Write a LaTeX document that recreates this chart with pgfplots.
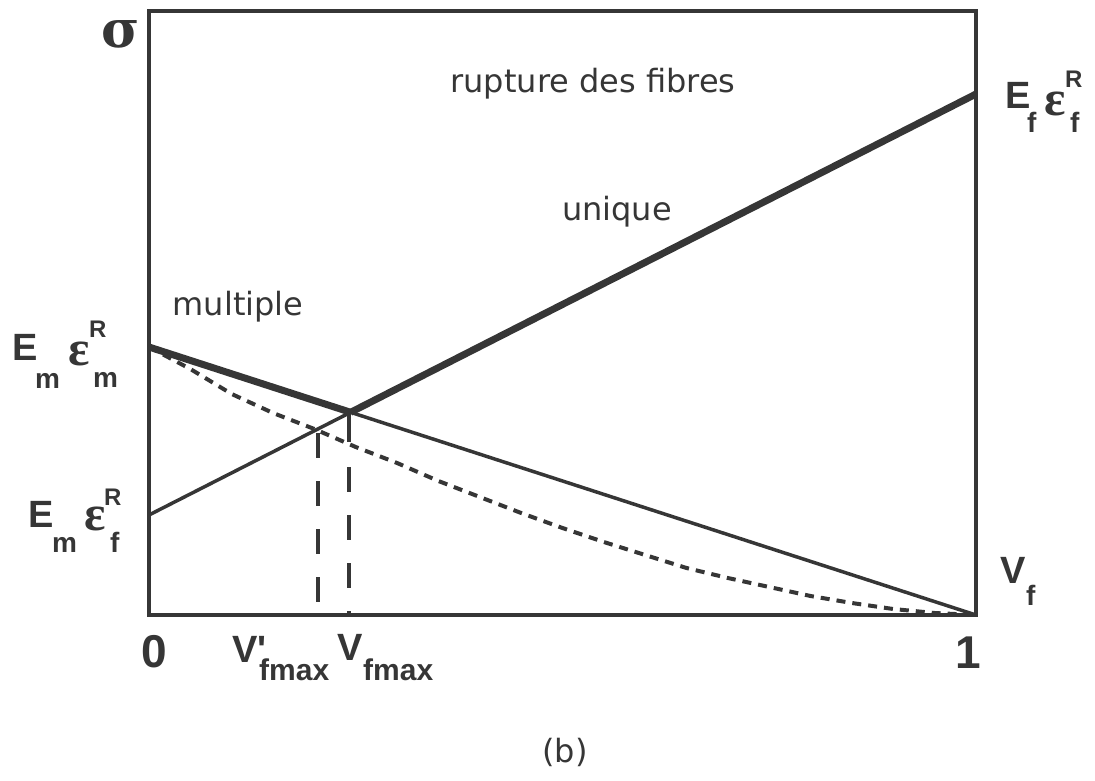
\documentclass[border=0pt]{standalone}
\usepackage{pgfplots}
\pgfplotsset{compat=1.18}
\usepackage{fontspec}
\setmainfont{DejaVu Sans}
\newfontfamily\lab{Liberation Sans}
\newfontfamily\ser{Liberation Serif}
\newfontfamily\dser{DejaVu Serif}
\definecolor{ink}{HTML}{363636}
\tikzset{
 big/.style={anchor=base west, inner sep=0pt, text=ink, font=\lab\bfseries\fontsize{38}{40}\selectfont},
 sub/.style={anchor=base west, inner sep=0pt, text=ink, font=\lab\bfseries\fontsize{28}{30}\selectfont},
 sup/.style={anchor=base west, inner sep=0pt, text=ink, font=\lab\bfseries\fontsize{24}{26}\selectfont},
 eps/.style={anchor=base west, inner sep=0pt, text=ink, font=\ser\bfseries\fontsize{50}{52}\selectfont},
 txt/.style={anchor=base, inner sep=0pt, text=ink, font=\fontsize{32}{34}\selectfont},
}
\begin{document}
\begin{tikzpicture}[x=1pt,y=1pt]
\useasboundingbox (0,0) rectangle (1095,-780);
\begin{axis}[at={(149pt,-615pt)}, anchor=south west, scale only axis,
  width=827pt, height=604pt, xmin=0, xmax=1, ymin=0, ymax=6.04,
  xtick=\empty, ytick=\empty, clip=false,
  axis line style={draw=ink, line width=3.5pt}]
% E_m eps_m^R (1-V_f) : matrix-dominated branch
\addplot[ink, line width=7pt] coordinates {(0,2.68) (0.2438,2.027)};
\addplot[ink, line width=3.5pt] coordinates {(0.2438,2.027) (1,0)};
% fibre-dominated branch
\addplot[ink, line width=3.5pt] coordinates {(0,1.00) (0.2438,2.027)};
\addplot[ink, line width=7pt] coordinates {(0.2438,2.027) (1,5.21)};
% dashed curve
\addplot[ink, line width=4pt, dash pattern=on 9pt off 7pt] coordinates {
(0,2.68) (0.05,2.46) (0.10,2.21) (0.15,2.02) (0.20,1.86) (0.25,1.68)
(0.30,1.52) (0.35,1.34) (0.40,1.18) (0.45,1.02) (0.50,0.87) (0.55,0.73)
(0.60,0.60) (0.65,0.47) (0.70,0.37) (0.75,0.28) (0.80,0.19) (0.85,0.12)
(0.90,0.06) (0.95,0.02) (1.0,0)};
% vertical markers
\addplot[ink, line width=3.5pt, dash pattern=on 25pt off 23pt] coordinates {(0.2044,1.82) (0.2044,0.12)};
\addplot[ink, line width=3.5pt] coordinates {(0.2418,2.03) (0.2418,1.73)};
\addplot[ink, line width=3.5pt, dash pattern=on 25pt off 23pt] coordinates {(0.2418,1.48) (0.2418,0)};
\end{axis}
% sigma
\node[anchor=base, inner sep=0pt, text=ink, font=\dser\bfseries\fontsize{52}{54}\selectfont] at (121,-47) {σ};
% in-plot texts
\node[txt] at (593,-92) {rupture des fibres};
\node[txt] at (617,-220) {unique};
\node[txt] at (238,-315) {multiple};
\node[txt] at (565,-762) {(b)};
% E_m eps_m^R
\node[big] at (12,-360) {E};
\node[sub] at (35,-388) {m};
\node[eps] at (68,-365) {ε};
\node[sup] at (89,-337) {R};
\node[sub] at (93,-387) {m};
% E_m eps_f^R
\node[big] at (28,-527) {E};
\node[sub] at (52,-552) {m};
\node[eps] at (84,-530) {ε};
\node[sup] at (104,-505) {R};
\node[sub] at (110,-552) {f};
% E_f eps_f^R
\node[big] at (1005,-108) {E};
\node[sub] at (1027,-132) {f};
\node[eps] at (1044,-115) {ε};
\node[sup] at (1065,-87) {R};
\node[sub] at (1070,-132) {f};
% V_f
\node[big] at (1000,-583) {V};
\node[sub] at (1026,-605) {f};
% 0 and 1
\node[anchor=base, inner sep=0pt, text=ink, font=\lab\bfseries\fontsize{46}{48}\selectfont] at (154,-667) {0};
\node[anchor=base, inner sep=0pt, text=ink, font=\lab\bfseries\fontsize{46}{48}\selectfont] at (968,-668) {1};
% V'fmax and Vfmax
\node[big] at (232,-662) {V\textquotesingle};
\node[sub, font=\lab\bfseries\fontsize{30}{32}\selectfont] at (259,-680) {fmax};
\node[big] at (337,-660) {V};
\node[sub, font=\lab\bfseries\fontsize{30}{32}\selectfont] at (363,-680) {fmax};
\end{tikzpicture}
\end{document}
